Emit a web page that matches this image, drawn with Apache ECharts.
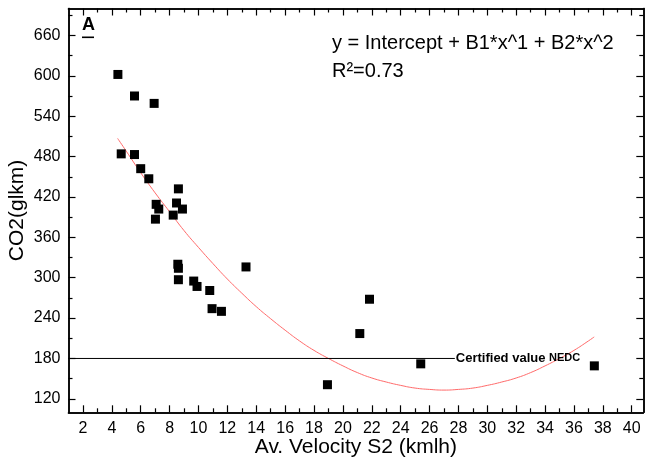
<!DOCTYPE html>
<html>
<head>
<meta charset="utf-8">
<script src="https://cdn.jsdelivr.net/npm/echarts@6/dist/echarts.min.js"></script>
<style>
html,body{margin:0;padding:0;background:#fff;}
#chart{width:647px;height:466px;}
</style>
</head>
<body>
<div id="chart"></div>
<script>
// Measured points: average velocity (km/h) vs CO2 (g/km)
var velocity = [4.42, 5.57, 6.93, 4.65, 5.57, 6.0, 6.56, 8.61, 7.07, 7.25, 8.48, 8.89, 7.02, 8.25,
                8.57, 8.61, 8.61, 9.67, 9.9, 10.78, 10.94, 11.59, 13.29, 18.93, 21.17, 21.84, 25.39, 37.41];
var co2 = [602, 570, 559, 484, 483, 462, 447, 432, 409, 402, 411, 402, 387, 393,
           320, 314, 297, 295, 287, 281, 254, 250, 316, 141, 217, 268, 172, 169];

// Fitted polynomial curve
var fitX = [4.4, 5, 6, 7, 8, 9, 10, 11, 12, 13, 14, 15, 16, 17, 18, 19, 20, 21, 22, 23, 24, 25, 26, 27,
            28, 29, 30, 31, 32, 33, 34, 35, 36, 37, 37.4];
var fitY = [507, 488, 456, 426, 398, 370, 345, 321, 298, 277, 257, 239, 222, 206, 192, 180, 169, 159, 151, 145, 140, 136, 134, 133,
            134, 136, 140, 145, 151, 159, 169, 180, 192, 206, 212];

// Certified NEDC value line
var nedcX = [1, 27.75];
var nedcY = [180, 180];

// Axis ticks
var xMajor = [2, 4, 6, 8, 10, 12, 14, 16, 18, 20, 22, 24, 26, 28, 30, 32, 34, 36, 38, 40];
var xMinor = [3, 5, 7, 9, 11, 13, 15, 17, 19, 21, 23, 25, 27, 29, 31, 33, 35, 37, 39];
var yMajor = [120, 180, 240, 300, 360, 420, 480, 540, 600, 660];
var yMinor = [150, 210, 270, 330, 390, 450, 510, 570, 630, 690];

var FONT = "'Liberation Sans', Arial, Helvetica, sans-serif";
var X_MIN = 1, X_MAX = 40.8, Y_MIN = 100, Y_MAX = 700;

function zip(a, b) { return a.map(function (v, i) { return [v, b[i]]; }); }

var lineStyle = { color: '#000', width: 1.5 };

function xAx(pos, ticks, len, labels) {
  return {
    type: 'value', position: pos, min: X_MIN, max: X_MAX,
    axisLine: { show: true, onZero: false, lineStyle: lineStyle },
    axisTick: { show: true, inside: true, length: len, customValues: ticks, lineStyle: { color: '#000', width: 1.2 } },
    axisLabel: labels ? { show: true, customValues: xMajor, fontSize: 16, color: '#000', fontFamily: FONT, margin: 8 } : { show: false },
    splitLine: { show: false }
  };
}
function yAx(pos, ticks, len, labels) {
  return {
    type: 'value', position: pos, min: Y_MIN, max: Y_MAX,
    axisLine: { show: true, onZero: false, lineStyle: lineStyle },
    axisTick: { show: true, inside: true, length: len, customValues: ticks, lineStyle: { color: '#000', width: 1.2 } },
    axisLabel: labels ? { show: true, customValues: yMajor, fontSize: 16, color: '#000', fontFamily: FONT, margin: 8 } : { show: false },
    splitLine: { show: false }
  };
}

var xAxes = [xAx('bottom', xMajor, 7, true), xAx('bottom', xMinor, 4, false), xAx('top', xMajor, 7, false), xAx('top', xMinor, 4, false)];
xAxes[0].name = 'Av. Velocity S2 (kmlh)';
xAxes[0].nameLocation = 'middle';
xAxes[0].nameGap = 24;
xAxes[0].nameMoveOverlap = false;
xAxes[0].nameTextStyle = { fontSize: 21, color: '#000', fontFamily: FONT };

var yAxes = [yAx('left', yMajor, 7, true), yAx('left', yMinor, 4, false), yAx('right', yMajor, 7, false), yAx('right', yMinor, 4, false)];
yAxes[0].name = 'CO2(glkm)';
yAxes[0].nameLocation = 'middle';
yAxes[0].nameGap = 41;
yAxes[0].nameMoveOverlap = false;
yAxes[0].nameTextStyle = { fontSize: 21, color: '#000', fontFamily: FONT };

var chart = echarts.init(document.getElementById('chart'), null, { renderer: 'canvas' });
chart.setOption({
  backgroundColor: '#fff',
  animation: false,
  grid: { left: 68.5, right: 3.7, top: 8.5, bottom: 53.7, containLabel: false, outerBoundsMode: 'none' },
  xAxis: xAxes,
  yAxis: yAxes,
  graphic: [
    { type: 'text', left: 82, top: 16, style: { text: 'A', font: 'bold 18px ' + FONT, fill: '#000' } },
    { type: 'rect', left: 82, top: 36.5, shape: { width: 12, height: 1.6 }, style: { fill: '#000' } },
    { type: 'text', left: 332, top: 33, style: { text: 'y = Intercept + B1*x^1 + B2*x^2', font: '20px ' + FONT, fill: '#000' } },
    { type: 'text', left: 332, top: 61, style: { text: 'R²=0.73', font: '20px ' + FONT, fill: '#000' } }
  ],
  series: [
    {
      type: 'line', data: zip(fitX, fitY), smooth: true, symbol: 'none',
      xAxisIndex: 0, yAxisIndex: 0,
      lineStyle: { color: '#ff6a6a', width: 1 }, z: 2
    },
    {
      type: 'line', data: zip(nedcX, nedcY), symbol: 'none',
      xAxisIndex: 0, yAxisIndex: 0,
      lineStyle: { color: '#000', width: 1 }, z: 3,
      endLabel: {
        show: true, distance: 1,
        formatter: '{a|Certified value }{b|NEDC}',
        rich: {
          a: { fontSize: 13, fontWeight: 'bold', color: '#000', fontFamily: FONT },
          b: { fontSize: 11, fontWeight: 'bold', color: '#000', fontFamily: FONT }
        }
      }
    },
    {
      type: 'scatter', data: zip(velocity, co2), symbol: 'rect', symbolSize: 9,
      xAxisIndex: 0, yAxisIndex: 0,
      itemStyle: { color: '#000', opacity: 1 }, z: 4
    }
  ]
});
</script>
</body>
</html>
